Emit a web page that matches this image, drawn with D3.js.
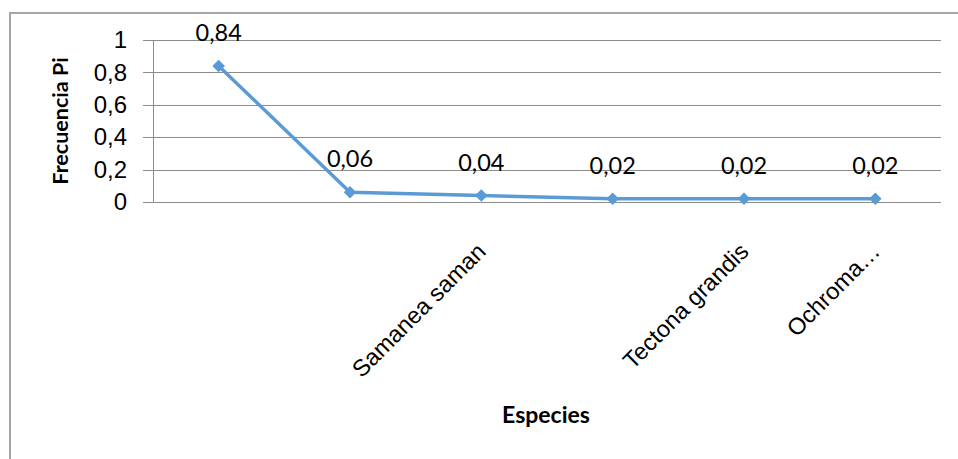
<!DOCTYPE html>
<html>
<head>
<meta charset="utf-8">
<script src="https://cdn.jsdelivr.net/npm/d3@7"></script>
<style>
  html, body { margin: 0; padding: 0; background: #fff; }
  svg { display: block; font-family: Lato, "Open Sans", sans-serif; }
</style>
</head>
<body>
<svg id="chart" width="958" height="459"></svg>
<script>
// Species frequency (Pi) — only some category names are shown on the axis
const categories = ["", "", "Samanea saman", "", "Tectona grandis", "Ochroma…"];
const frecuencia = [0.84, 0.06, 0.04, 0.02, 0.02, 0.02];
const valueLabels = ["0,84", "0,06", "0,04", "0,02", "0,02", "0,02"];
const yTicks = [0, 0.2, 0.4, 0.6, 0.8, 1];
const yTickLabels = ["0", "0,2", "0,4", "0,6", "0,8", "1"];

const svg = d3.select("#chart");
const margin = { left: 153, right: 17, top: 40, bottom: 257 };
const W = 958, H = 459;
const innerW = W - margin.left - margin.right;
const innerH = H - margin.top - margin.bottom;

// outer chart frame (top and left edges visible)
svg.append("path")
  .attr("d", `M10,${H} L10,13 L${W},13`)
  .attr("fill", "none").attr("stroke", "#a6a6a6").attr("stroke-width", 2);

const g = svg.append("g").attr("transform", `translate(${margin.left},${margin.top})`);

const x = d3.scaleBand().domain(d3.range(categories.length)).range([0, innerW]);
const y = d3.scaleLinear().domain([0, 1]).range([innerH, 0]);

// horizontal gridlines with small tick stubs to the left
g.append("g").selectAll("line").data(yTicks).join("line")
  .attr("x1", -10).attr("x2", innerW)
  .attr("y1", d => Math.round(y(d)) + 0.5).attr("y2", d => Math.round(y(d)) + 0.5)
  .attr("stroke", "#8c8c8c").attr("stroke-width", 1);

// y axis
const yAxis = g.append("g")
  .call(d3.axisLeft(y).tickValues(yTicks).tickFormat((d, i) => yTickLabels[i]).tickSize(0).tickPadding(26));
yAxis.select(".domain").remove();
yAxis.selectAll("text").attr("font-size", 24).attr("fill", "#000");
g.append("line").attr("x1", 0.5).attr("x2", 0.5).attr("y1", 0).attr("y2", innerH)
  .attr("stroke", "#8c8c8c");

// x axis with rotated category names
const xAxis = g.append("g").attr("transform", `translate(0,${innerH})`)
  .call(d3.axisBottom(x).tickFormat(i => categories[i]).tickSize(0).tickPadding(0));
xAxis.select(".domain").remove();
xAxis.selectAll("text")
  .attr("font-size", 23.5).attr("fill", "#000")
  .attr("text-anchor", "end")
  .attr("dy", 0)
  .attr("transform", "translate(6,51) rotate(-45)");

// series line
const cx = i => x(i) + x.bandwidth() / 2;
g.append("path").datum(frecuencia)
  .attr("d", d3.line().x((d, i) => cx(i)).y(d => y(d)))
  .attr("fill", "none").attr("stroke", "#5b9bd5").attr("stroke-width", 3.5)
  .attr("stroke-linejoin", "round");

// diamond markers
g.append("g").selectAll("path").data(frecuencia).join("path")
  .attr("d", d3.symbol().type(d3.symbolDiamond2).size(100))
  .attr("transform", (d, i) => `translate(${cx(i)},${y(d)})`)
  .attr("fill", "#5b9bd5");

// value labels
g.append("g").selectAll("text").data(frecuencia).join("text")
  .attr("x", (d, i) => cx(i)).attr("y", d => y(d) - 25)
  .attr("text-anchor", "middle").attr("font-size", 23.5).attr("fill", "#000")
  .text((d, i) => valueLabels[i]);

// axis titles
svg.append("text")
  .attr("transform", "translate(68,121) rotate(-90)")
  .attr("text-anchor", "middle").attr("font-size", 21.5).attr("font-weight", "bold")
  .text("Frecuencia Pi");
svg.append("text")
  .attr("x", 546).attr("y", 423)
  .attr("text-anchor", "middle").attr("font-size", 23).attr("font-weight", "bold")
  .text("Especies");
</script>
</body>
</html>
